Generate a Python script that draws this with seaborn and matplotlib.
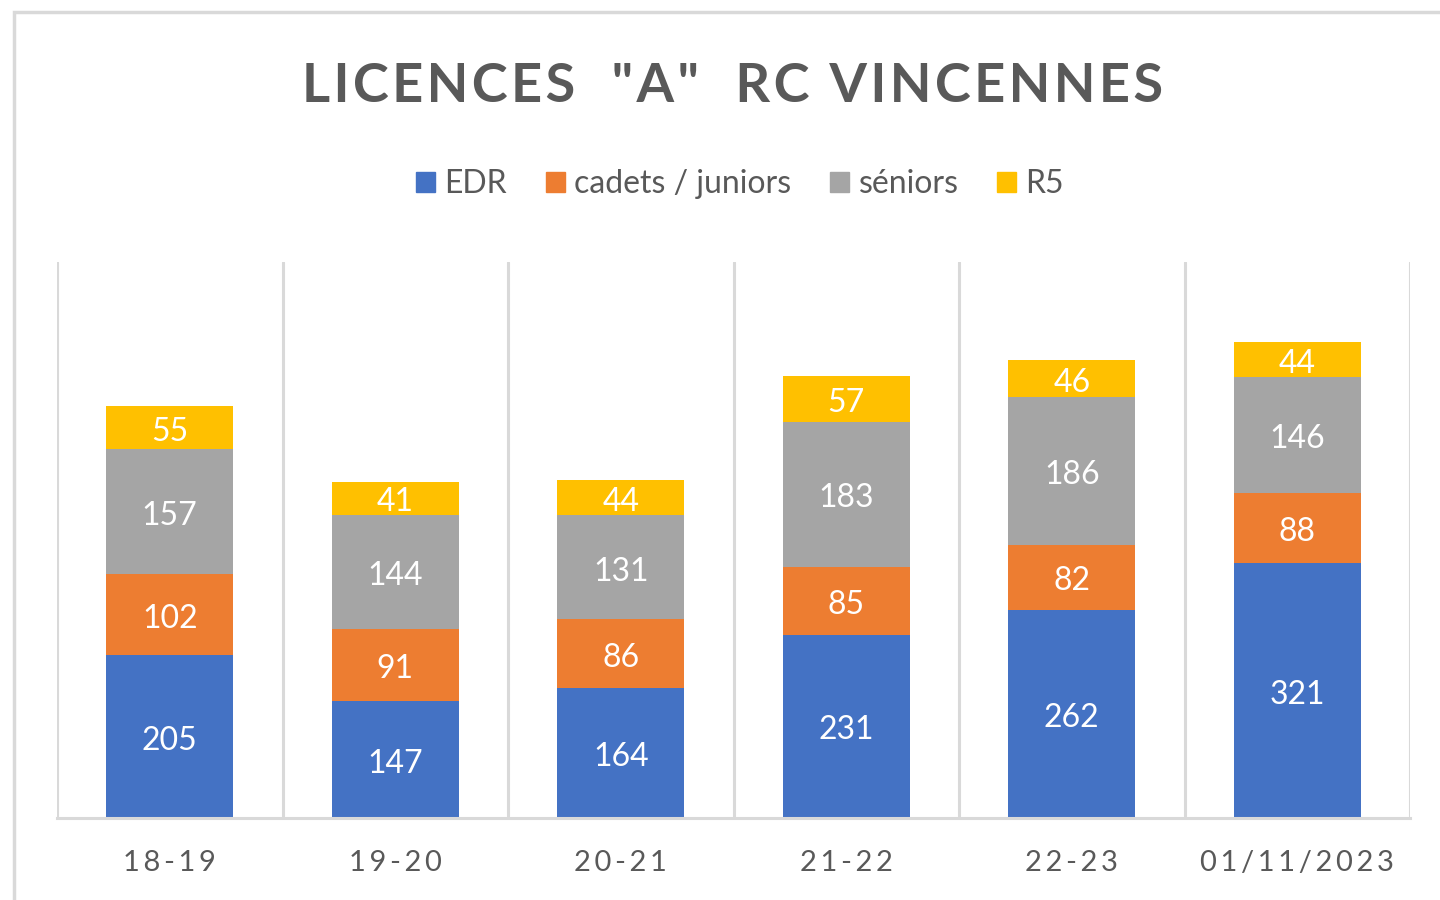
import numpy as np
import pandas as pd
import seaborn as sns
import matplotlib.pyplot as plt
from matplotlib.patches import Rectangle

# data
seasons = ["18-19", "19-20", "20-21", "21-22", "22-23", "01/11/2023"]
edr = [205, 147, 164, 231, 262, 321]
cadets_juniors = [102, 91, 86, 85, 82, 88]
seniors = [157, 144, 131, 183, 186, 146]
r5 = [55, 41, 44, 57, 46, 44]

series_names = ["EDR", "cadets / juniors", "séniors", "R5"]
series_colors = ["#4472C4", "#ED7D31", "#A5A5A5", "#FFC000"]

FONT = ["Lato", "DejaVu Sans"]
GREY_TEXT = "#595959"
GRID = "#D9D9D9"


def spaced(text, sep="\u2009"):
    """Mimic the letter spacing of the original."""
    return sep.join(text)


def main():
    sns.set_theme(style="white")
    plt.rcParams["font.family"] = FONT

    df = pd.DataFrame({"season": seasons, "EDR": edr,
                       "cadets / juniors": cadets_juniors,
                       "séniors": seniors, "R5": r5})
    cum = df[series_names].cumsum(axis=1)

    fig = plt.figure(figsize=(14.4, 9), dpi=100)
    ax = fig.add_axes([57 / 1440, 82 / 900, 1353 / 1440, 556 / 900])

    # layered bars: draw the tallest cumulative first
    for name, color in reversed(list(zip(series_names, series_colors))):
        sns.barplot(x=df["season"], y=cum[name], color=color, width=0.565,
                    saturation=1, ax=ax, label=name, zorder=2, linewidth=0)

    # centred white value labels
    bottoms = cum.shift(1, axis=1).fillna(0)
    for i in range(len(seasons)):
        for name in series_names:
            val = df.loc[i, name]
            y = bottoms.loc[i, name] + val / 2
            ax.annotate(str(val), (i, y), xytext=(0, -3), textcoords="offset points",
                        ha="center", va="center", color="white",
                        fontsize=23, zorder=3)

    ax.set_ylim(0, 700)
    ax.set_xlim(-0.5, len(seasons) - 0.5)
    ax.set_yticks([])
    ax.set_xlabel("")
    ax.set_ylabel("")
    ax.set_xticks(range(len(seasons)))
    ax.set_xticklabels([spaced(s) for s in seasons], fontsize=21, color=GREY_TEXT)
    ax.tick_params(axis="x", length=0, pad=23)
    for b in np.arange(-0.5, len(seasons), 1):
        ax.axvline(b, color=GRID, lw=2.2, zorder=1)
    for side in ["top", "left", "right"]:
        ax.spines[side].set_visible(False)
    ax.spines["bottom"].set_color(GRID)
    ax.spines["bottom"].set_linewidth(2.2)
    ax.legend().remove()

    # legend
    handles = [Rectangle((0, 0), 1, 1, color=c) for c in series_colors]
    fig.legend(handles, series_names, loc="center", bbox_to_anchor=(740 / 1440, 1 - 184 / 900),
               ncol=4, frameon=False, fontsize=23, handlelength=0.6, handleheight=0.6,
               handletextpad=0.3, columnspacing=1.2, labelcolor=GREY_TEXT)

    # title
    fig.text(733 / 1440, 1 - 86 / 900, spaced('LICENCES  "A"  RC VINCENNES', "\u200a"),
             ha="center", va="center", fontsize=39, fontweight="bold", color=GREY_TEXT)

    # chart frame
    fig.patches.append(Rectangle((14 / 1440, -0.1), 1.2, 1 - 12 / 900 + 0.1,
                                 transform=fig.transFigure, fill=False,
                                 edgecolor=GRID, lw=2.5))

    fig.savefig("out.png", dpi=100, facecolor="white")
    plt.close(fig)


if __name__ == "__main__":
    main()
